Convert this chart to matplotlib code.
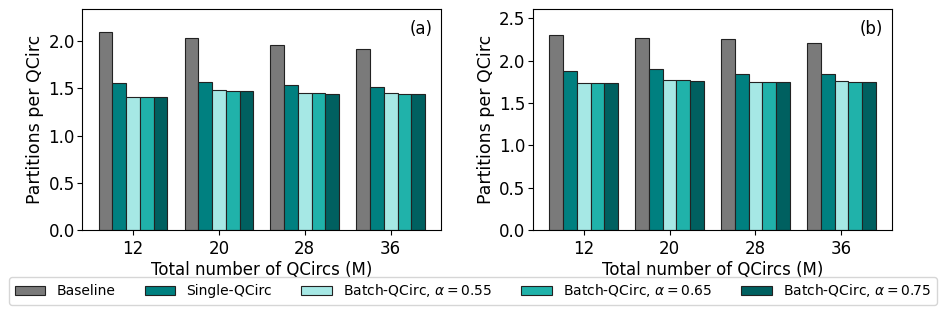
import matplotlib
matplotlib.use("Agg")
import matplotlib.pyplot as plt
import numpy as np

categories = ["12", "20", "28", "36"]
series_names = ["Baseline", "Single-QCirc", r"Batch-QCirc, $\alpha=0.55$",
                r"Batch-QCirc, $\alpha=0.65$", r"Batch-QCirc, $\alpha=0.75$"]
colors = ["#7a7a7a", "#008080", "#a6e8e5", "#20b2aa", "#006060"]

vals_a = [
    [2.09, 2.03, 1.96, 1.92],
    [1.56, 1.57, 1.53, 1.51],
    [1.41, 1.48, 1.45, 1.45],
    [1.41, 1.47, 1.45, 1.44],
    [1.41, 1.47, 1.44, 1.44],
]
vals_b = [
    [2.30, 2.27, 2.25, 2.21],
    [1.88, 1.90, 1.84, 1.84],
    [1.74, 1.77, 1.75, 1.76],
    [1.74, 1.77, 1.75, 1.75],
    [1.74, 1.76, 1.75, 1.745],
]

fig, axes = plt.subplots(1, 2, figsize=(9.46, 3.14), dpi=100)
plt.subplots_adjust(left=0.087, right=0.943, top=0.972, bottom=0.267, wspace=0.255)

x = np.arange(len(categories))
w = 0.16
handles = []
for ax, vals, lab, ymax in zip(axes, [vals_a, vals_b], ["(a)", "(b)"], [2.34, 2.61]):
    for i, (name, v) in enumerate(zip(series_names, vals)):
        b = ax.bar(x + (i - 2) * w, v, w, color=colors[i], edgecolor="#222222",
                   linewidth=0.8, label=name)
        if ax is axes[0]:
            handles.append(b)
    ax.set_xticks(x)
    ax.set_xticklabels(categories, fontsize=12)
    ax.tick_params(axis="y", labelsize=12, pad=2)
    ax.set_ylim(0, ymax)
    ax.set_xlabel("Total number of QCircs (M)", fontsize=12, labelpad=2)
    ax.set_ylabel("Partitions per QCirc", fontsize=12.5, labelpad=3)
    ax.text(0.975, 0.95, lab, transform=ax.transAxes, ha="right", va="top", fontsize=12)

fig.legend(handles=handles, labels=series_names, loc="lower center", ncol=5,
           bbox_to_anchor=(0.5, 0.02), fontsize=10, columnspacing=2.1,
           handlelength=2.2, borderaxespad=0.2)
fig.savefig("out.png", dpi=100)
